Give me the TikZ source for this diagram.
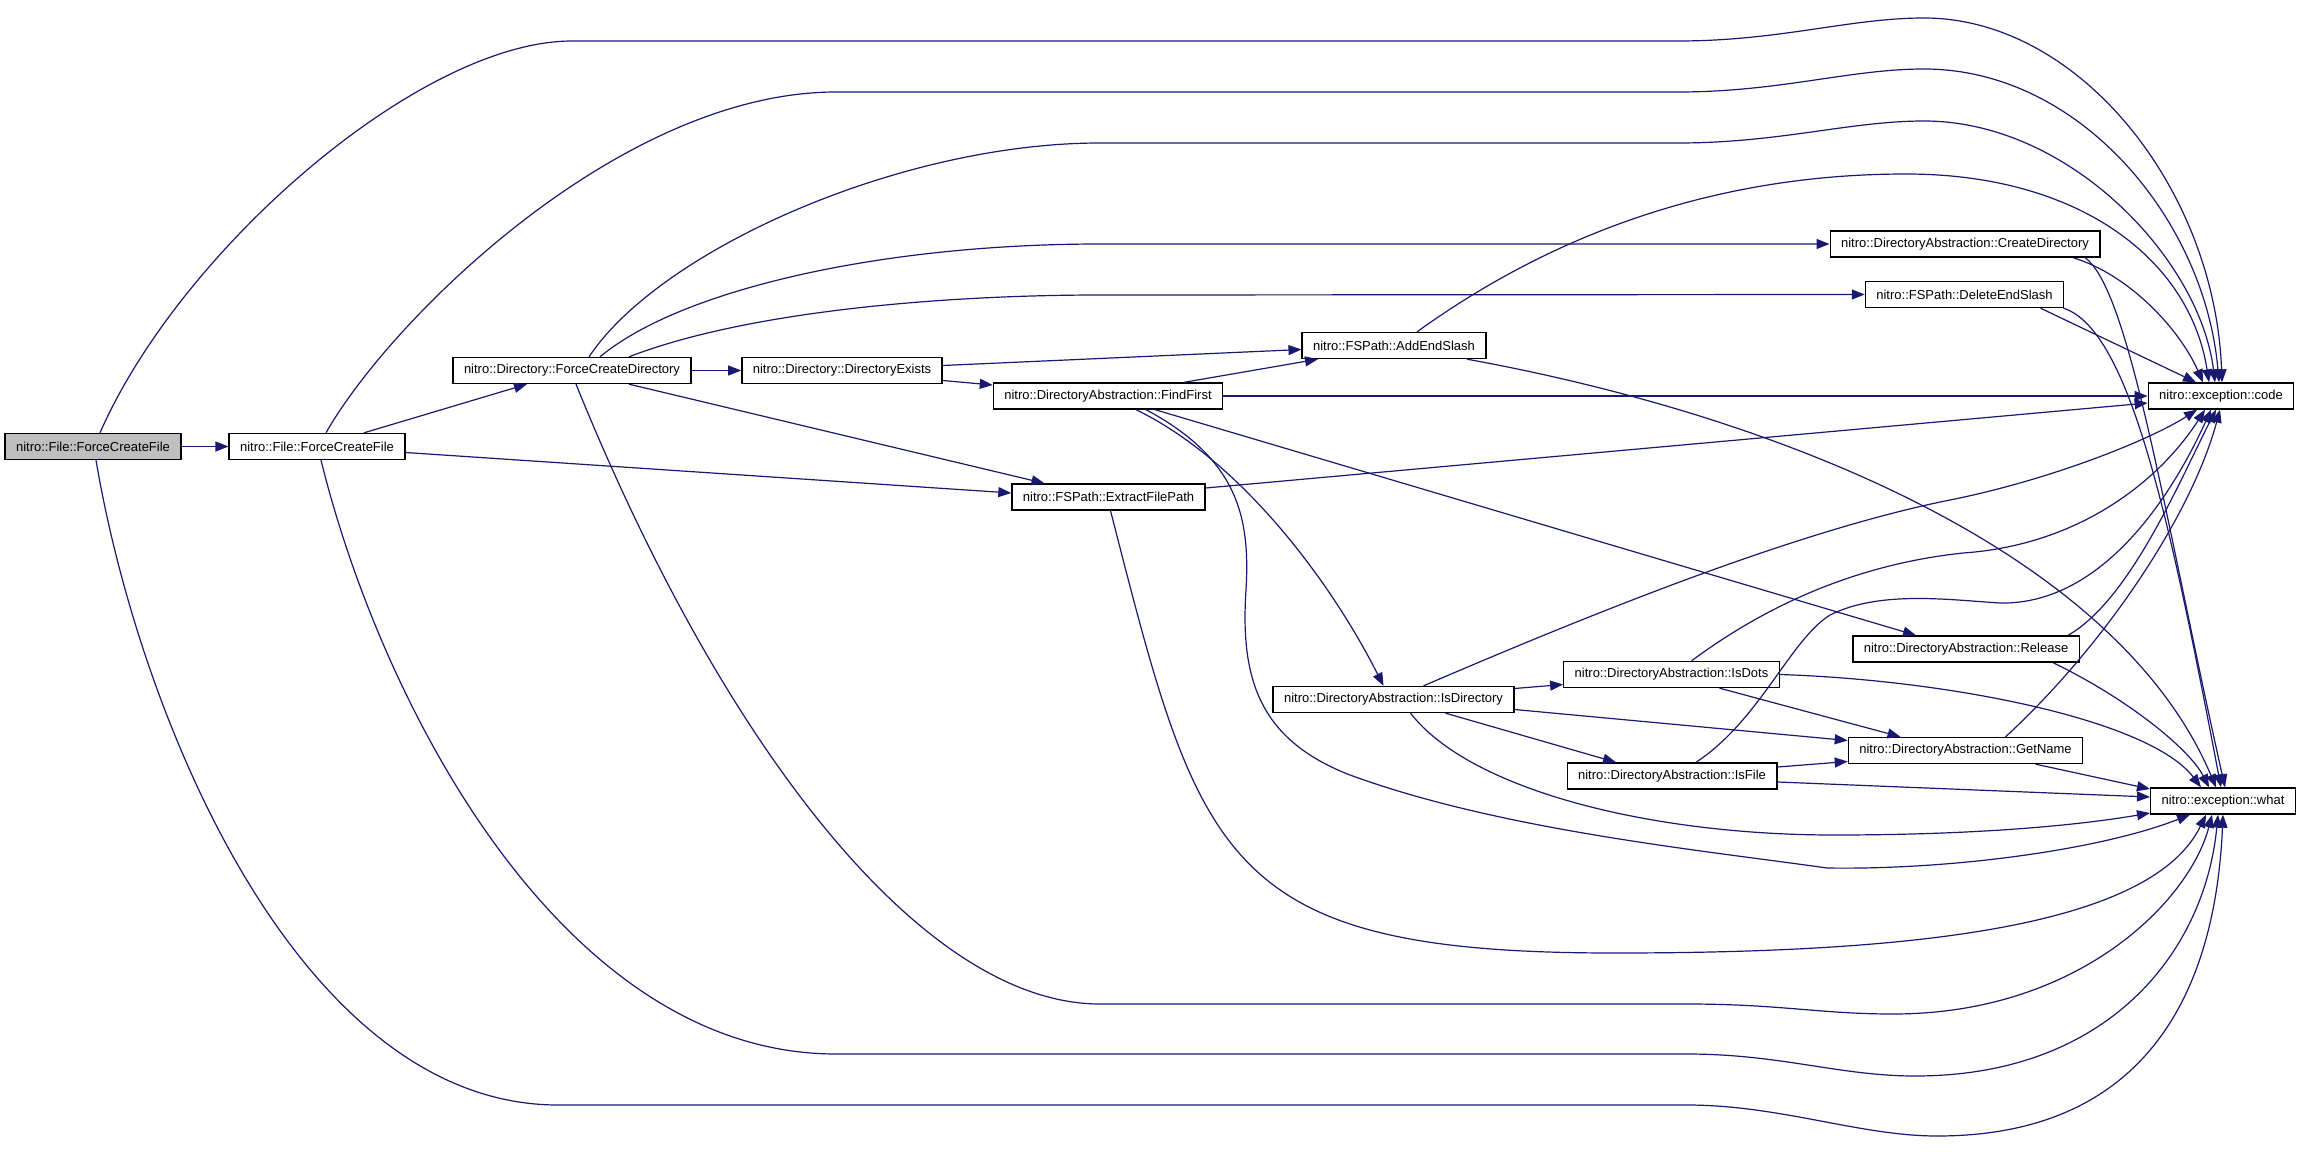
\documentclass[tikz,border=0pt]{standalone}
\usepackage{fontspec}
\setmainfont{Liberation Sans}
\usetikzlibrary{arrows.meta,calc}
\definecolor{edgeblue}{HTML}{191970}
\definecolor{rootgray}{HTML}{BFBFBF}
\begin{document}
\begin{tikzpicture}[x=0.75pt,y=-0.75pt]
\tikzset{
  fn/.style={draw=black, line width=1pt, fill=white, minimum height=19.5pt,
    inner xsep=8.2pt, inner ysep=0pt, font=\fontsize{9.75pt}{11pt}\selectfont, anchor=center},
  rootfn/.style={fn, fill=rootgray},
  call/.style={draw=edgeblue, line width=0.9pt, -{Triangle[length=9.75pt,width=7.5pt]}}
}
\useasboundingbox (0,0) rectangle (2301,1152);
\fill[white] (0,0) rectangle (2301,1152);

% nodes
\node[rootfn] (root) at (93,446.5) {nitro::File::ForceCreateFile};
\node[fn] (ffile) at (317,446.5) {nitro::File::ForceCreateFile};
\node[fn] (fcd) at (572,370.5) {nitro::Directory::ForceCreateDirectory};
\node[fn] (dexists) at (842,370.5) {nitro::Directory::DirectoryExists};
\node[fn] (findfirst) at (1108,396) {nitro::DirectoryAbstraction::FindFirst};
\node[fn] (extract) at (1108.5,497) {nitro::FSPath::ExtractFilePath};
\node[fn] (addslash) at (1394,345.5) {nitro::FSPath::AddEndSlash};
\node[fn] (createdir) at (1965,244) {nitro::DirectoryAbstraction::CreateDirectory};
\node[fn] (delslash) at (1964.5,294.5) {nitro::FSPath::DeleteEndSlash};
\node[fn] (code) at (2221,396) {nitro::exception::code};
\node[fn] (release) at (1966,649) {nitro::DirectoryAbstraction::Release};
\node[fn] (isdots) at (1671.5,674.5) {nitro::DirectoryAbstraction::IsDots};
\node[fn] (isdir) at (1393.5,699.5) {nitro::DirectoryAbstraction::IsDirectory};
\node[fn] (getname) at (1965.5,750.5) {nitro::DirectoryAbstraction::GetName};
\node[fn] (isfile) at (1672,776) {nitro::DirectoryAbstraction::IsFile};
\node[fn] (what) at (2223,801) {nitro::exception::what};

% edges from root
\draw[call] (root.east) -- (ffile.west);
\draw[call] ($(root.north)+(7,0)$) .. controls (180,250) and (420,41) .. (572,41) -- (1678,41)
  .. controls (1780,41) and (1850,18) .. (1924,18)
  .. controls (2080,18) and (2215,190) .. ($(code.north)+(1,0)$);
\draw[call] ($(root.south)+(3,0)$) .. controls (140,720) and (300,1105) .. (558,1105) -- (1687,1105)
  .. controls (1780,1105) and (1860,1136) .. (1937,1136)
  .. controls (2140,1136) and (2215,1000) .. ($(what.south)+(0,0)$);

% edges from ffile
\draw[call] ($(ffile.north)+(47,0)$) -- ($(fcd.south)+(-45,0)$);
\draw[call] ($(ffile.east)+(0,6)$) -- ($(extract.west)+(0,-4)$);
\draw[call] ($(ffile.north)+(9,0)$) .. controls (390,320) and (620,92) .. (836,92) -- (1678,92)
  .. controls (1780,92) and (1850,69) .. (1924,69)
  .. controls (2080,69) and (2205,220) .. ($(code.north)+(-2,0)$);
\draw[call] ($(ffile.south)+(4,0)$) .. controls (380,700) and (560,1054) .. (836,1054) -- (1687,1054)
  .. controls (1780,1054) and (1840,1076) .. (1915,1076)
  .. controls (2110,1076) and (2205,950) .. ($(what.south)+(-5,0)$);

% edges from fcd
\draw[call] (fcd.east) -- (dexists.west);
\draw[call] ($(fcd.south)+(57,0)$) -- ($(extract.north)+(-64,0)$);
\draw[call] ($(fcd.north)+(28,0)$) .. controls (680,290) and (880,244) .. (1100,244) -- (createdir.west);
\draw[call] ($(fcd.north)+(57,0)$) .. controls (750,310) and (950,295) .. (1100,295) -- (delslash.west);
\draw[call] ($(fcd.north)+(17,0)$) .. controls (660,250) and (900,143) .. (1100,143) -- (1678,143)
  .. controls (1780,143) and (1850,121) .. (1924,121)
  .. controls (2070,121) and (2200,260) .. ($(code.north)+(-6,0)$);
\draw[call] ($(fcd.south)+(4,0)$) .. controls (720,740) and (920,1004) .. (1100,1004) -- (1687,1004)
  .. controls (1780,1004) and (1820,1014) .. (1893,1014)
  .. controls (2080,1014) and (2190,900) .. ($(what.south)+(-11,0)$);

% dexists
\draw[call] ($(dexists.east)+(0,-5)$) -- ($(addslash.west)+(0,4)$);
\draw[call] ($(dexists.east)+(0,10)$) -- ($(findfirst.west)+(0,-11)$);

% findfirst
\draw[call] ($(findfirst.north)+(76,0)$) -- ($(addslash.south)+(-76,0)$);
\draw[call] (findfirst.east) -- (code.west);
\draw[call] ($(findfirst.south)+(47,0)$) -- ($(release.north)+(-50,0)$);
\draw[call] ($(findfirst.south)+(28,0)$) .. controls (1240,460) and (1330,580) .. ($(isdir.north)+(-10,0)$);
\draw[call] ($(findfirst.south)+(38,0)$) .. controls (1240,460) and (1250,520) .. (1246,590)
  .. controls (1240,680) and (1260,740) .. (1350,775)
  .. controls (1500,830) and (1700,850) .. (1827,868)
  .. controls (1950,870) and (2100,850) .. ($(what.south)+(-33,0)$);

% extract
\draw[call] ($(extract.east)+(0,-9)$) -- ($(code.west)+(0,7)$);
\draw[call] ($(extract.south)+(2,0)$) .. controls (1200,860) and (1220,953) .. (1614,953)
  .. controls (1900,953) and (2150,930) .. ($(what.south)+(-17,0)$);

% addslash
\draw[call] ($(addslash.north)+(23,0)$) .. controls (1600,200) and (1780,174) .. (1906,174)
  .. controls (2080,174) and (2190,260) .. ($(code.north)+(-12,0)$);
\draw[call] ($(addslash.south)+(73,0)$) .. controls (1800,420) and (2120,560) .. ($(what.north)+(-7,0)$);

% createdir
\draw[call] ($(createdir.south)+(108,0)$) .. controls (2130,275) and (2180,330) .. ($(code.north)+(-18,0)$);
\draw[call] ($(createdir.south)+(120,0)$) .. controls (2130,290) and (2165,520) .. ($(what.north)+(2,0)$);

% delslash
\draw[call] ($(delslash.south)+(76,0)$) -- ($(code.north)+(-25,0)$);
\draw[call] ($(delslash.south)+(99,0)$) .. controls (2130,330) and (2170,520) .. ($(what.north)+(-2,0)$);

% isdir
\draw[call] ($(isdir.east)+(0,-11)$) -- ($(isdots.west)+(0,10)$);
\draw[call] ($(isdir.east)+(0,10)$) -- ($(getname.west)+(0,-10)$);
\draw[call] ($(isdir.south)+(52,0)$) -- ($(isfile.north)+(-56,0)$);
\draw[call] ($(isdir.north)+(30,0)$) .. controls (1600,610) and (1800,530) .. (1950,500)
  .. controls (2050,480) and (2150,440) .. ($(code.south)+(-24,0)$);
\draw[call] ($(isdir.south)+(17,0)$) .. controls (1470,790) and (1650,835) .. (1834,835)
  .. controls (1980,835) and (2080,825) .. ($(what.west)+(0,12)$);

% isdots
\draw[call] ($(isdots.south)+(48,0)$) -- ($(getname.north)+(-65,0)$);
\draw[call] ($(isdots.north)+(20,0)$) .. controls (1760,610) and (1850,565) .. (1963,553)
  .. controls (2080,545) and (2160,480) .. ($(code.south)+(-16,0)$);
\draw[call] (isdots.east) .. controls (1950,680) and (2150,720) .. ($(what.north)+(-22,0)$);

% isfile
\draw[call] ($(isfile.east)+(0,-9)$) -- ($(getname.west)+(0,11)$);
\draw[call] ($(isfile.north)+(24,0)$) .. controls (1760,720) and (1790,640) .. (1830,615)
  .. controls (1880,590) and (1950,600) .. (2000,603)
  .. controls (2100,605) and (2170,500) .. ($(code.south)+(-10,0)$);
\draw[call] ($(isfile.east)+(0,6)$) -- ($(what.west)+(0,-4)$);

% getname
\draw[call] ($(getname.north)+(40,0)$) .. controls (2100,650) and (2190,520) .. ($(code.south)+(-1,0)$);
\draw[call] ($(getname.south)+(70,0)$) -- ($(what.west)+(0,-12)$);

% release
\draw[call] ($(release.north)+(102,0)$) .. controls (2130,600) and (2180,480) .. ($(code.south)+(-5,0)$);
\draw[call] ($(release.south)+(87,0)$) .. controls (2130,700) and (2190,750) .. ($(what.north)+(-14,0)$);
\end{tikzpicture}
\end{document}
